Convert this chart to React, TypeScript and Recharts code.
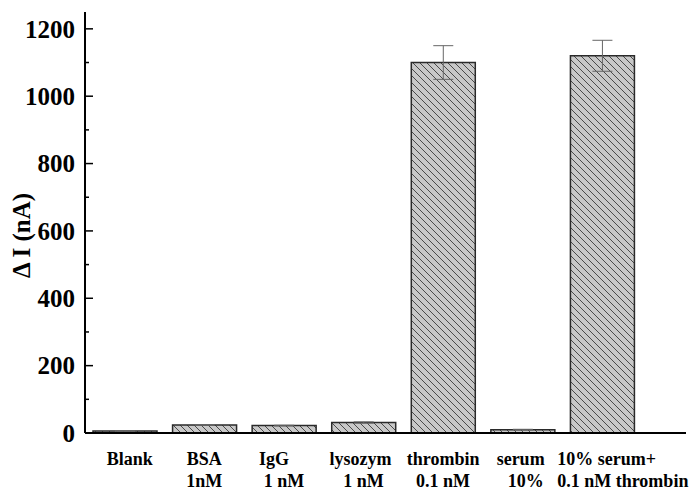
import { Bar, BarChart, ErrorBar, XAxis, YAxis } from "recharts";

const categories = ["Blank", "BSA", "IgG", "lysozym", "thrombin", "serum", "10% serum+"];
const subLabels = ["", "1nM", "1 nM", "1 nM", "0.1 nM", "10%", "0.1 nM thrombin"];
const deltaI = [6, 24, 22, 31, 1100, 10, 1120];
const deltaIErr = [1, 1, 1, 2, 50, 1, 46];
const yTicks = [0, 100, 200, 300, 400, 500, 600, 700, 800, 900, 1000, 1100, 1200];

const data = categories.map((name, i) => ({
  name,
  sub: subLabels[i],
  value: deltaI[i],
  err: deltaIErr[i],
}));

const FONT = "Liberation Serif, Times New Roman, serif";

// horizontal nudges for the two label lines, to follow the original layout
const labelNudge: Record<string, [number, number, "middle" | "start"]> = {
  Blank: [5, 0, "middle"],
  IgG: [-10, 0, "middle"],
  lysozym: [-3, 0, "middle"],
  serum: [-2, 3, "middle"],
  "10% serum+": [-45, -45, "start"],
};

function XTick({ x, y, payload, index }: any) {
  const sub = subLabels[index] ?? "";
  const [n1, n2, anchor] = labelNudge[payload.value] ?? [0, 0, "middle"];
  return (
    <g>
      <text x={x + n1} y={y + 24} textAnchor={anchor} fontFamily={FONT} fontWeight="bold" fontSize={18} fill="#000">
        {payload.value}
      </text>
      <text x={x + n2} y={y + 46} textAnchor={anchor} fontFamily={FONT} fontWeight="bold" fontSize={18} fill="#000">
        {sub}
      </text>
    </g>
  );
}

function YTick({ x, y, payload }: any) {
  const major = payload.value % 200 === 0;
  return (
    <g>
      <line x1={x} x2={x + (major ? 8 : 4)} y1={y} y2={y} stroke="#000" strokeWidth={1.5} />
      {major && (
        <text x={x - 10} y={y} dy="0.35em" textAnchor="end" fontFamily={FONT} fontWeight="bold" fontSize={25} fill="#000">
          {payload.value}
        </text>
      )}
    </g>
  );
}

function YLabel({ viewBox }: any) {
  const cx = (viewBox?.x ?? 0) + 21;
  const cy = (viewBox?.y ?? 12) + (viewBox?.height ?? 421) / 2 + 13;
  return (
    <text
      x={cx}
      y={cy}
      transform={`rotate(-90, ${cx}, ${cy})`}
      textAnchor="middle"
      dy="0.35em"
      fontFamily={FONT}
      fontWeight="bold"
      fontSize={25}
      fill="#000"
    >
      Δ I (nA)
    </text>
  );
}

export default function App() {
  return (
    <div style={{ position: "absolute", left: 0, top: 0, background: "#fff" }}>
      <BarChart width={692} height={492} data={data} margin={{ top: 12, right: 6, left: 0, bottom: 0 }}>
        <defs>
          <pattern id="hatch" patternUnits="userSpaceOnUse" width={7} height={7}>
            <rect width={7} height={7} fill="#c8c8c8" />
            <path d="M-2,-2 L9,9 M-2,5 L2,9 M5,-2 L9,2" stroke="#4a4a4a" strokeWidth={1} />
          </pattern>
        </defs>
        <XAxis
          dataKey="name"
          height={59}
          padding={{ left: 0, right: 44 }}
          axisLine={{ stroke: "#000", strokeWidth: 2 }}
          tickLine={false}
          tick={<XTick />}
          interval={0}
        />
        <XAxis xAxisId="top" dataKey="name" orientation="top" height={0} tick={false} tickLine={false} axisLine={{ stroke: "#000", strokeWidth: 2 }} />
        <YAxis
          width={85}
          domain={[0, 1250]}
          ticks={yTicks}
          interval={0}
          tickSize={0}
          tickMargin={0}
          axisLine={{ stroke: "#000", strokeWidth: 2 }}
          tickLine={false}
          tick={<YTick />}
          label={<YLabel />}
        />
        <YAxis yAxisId="right" orientation="right" width={0} domain={[0, 1250]} tick={false} tickLine={false} axisLine={{ stroke: "#000", strokeWidth: 2 }} />
        <Bar dataKey="value" barSize={64} fill="url(#hatch)" stroke="#2a2a2a" strokeWidth={1.5} isAnimationActive={false}>
          <ErrorBar dataKey="err" width={10} stroke="#666" strokeWidth={1} direction="y" />
        </Bar>
      </BarChart>
    </div>
  );
}
